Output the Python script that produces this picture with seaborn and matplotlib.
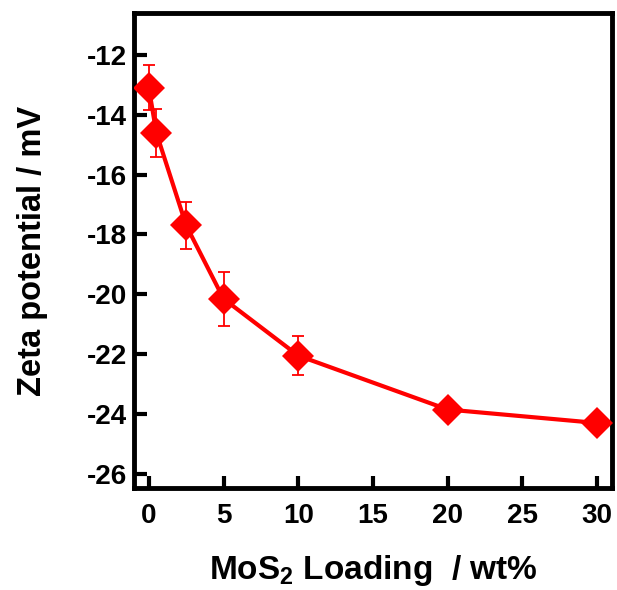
import matplotlib
matplotlib.use('Agg')
import matplotlib.pyplot as plt
import seaborn as sns
import pandas as pd

# --- Data ---
loading = [0, 0.5, 2.5, 5, 10, 20, 30]
zeta = [-13.1, -14.6, -17.7, -20.15, -22.05, -23.85, -24.3]
zeta_err = [0.75, 0.8, 0.8, 0.9, 0.65, 0.25, 0.25]

x_ticks = [0, 5, 10, 15, 20, 25, 30]
y_ticks = [-26, -24, -22, -20, -18, -16, -14, -12]

sns.set_style('ticks')
plt.rcParams['font.family'] = ['Liberation Sans', 'DejaVu Sans']
plt.rcParams['font.weight'] = 'bold'
plt.rcParams['axes.unicode_minus'] = False
plt.rcParams['text.color'] = 'black'
plt.rcParams['axes.labelcolor'] = 'black'
plt.rcParams['xtick.color'] = 'black'
plt.rcParams['ytick.color'] = 'black'
plt.rcParams['mathtext.fontset'] = 'custom'
plt.rcParams['mathtext.bf'] = 'Liberation Sans:bold'

df = pd.DataFrame({'loading': loading, 'zeta': zeta, 'err': zeta_err})

fig, ax = plt.subplots(figsize=(6.17, 5.9), dpi=100)

ax.errorbar(df['loading'], df['zeta'], yerr=df['err'], fmt='none',
            ecolor='red', elinewidth=1.3, capsize=4, capthick=1.3, zorder=2)
sns.lineplot(x='loading', y='zeta', data=df, color='red', linewidth=3,
             marker='D', markersize=16, markeredgewidth=0, ax=ax, zorder=3)

ax.set_xlim(-1, 31)
ax.set_ylim(-26.47, -10.6)
ax.set_xticks(x_ticks)
ax.set_yticks(y_ticks)

ax.tick_params(axis='both', which='major', direction='in', length=9, width=3,
               labelsize=20, top=False, right=False, bottom=True, left=True)
ax.tick_params(axis='x', pad=11)
ax.tick_params(axis='y', pad=5)
for lab in ax.get_xticklabels() + ax.get_yticklabels():
    lab.set_fontweight('bold')
for sp in ax.spines.values():
    sp.set_visible(True)
    sp.set_linewidth(3.5)
    sp.set_color('black')

ax.set_xlabel(r'MoS$_\mathbf{2}$ Loading  / wt%', fontsize=24, fontweight='bold', labelpad=17)
ax.set_ylabel('Zeta potential / mV', fontsize=23.5, fontweight='bold', labelpad=28)

fig.subplots_adjust(left=0.217, right=0.992, top=0.978, bottom=0.173)
fig.savefig('out.png', dpi=100)
